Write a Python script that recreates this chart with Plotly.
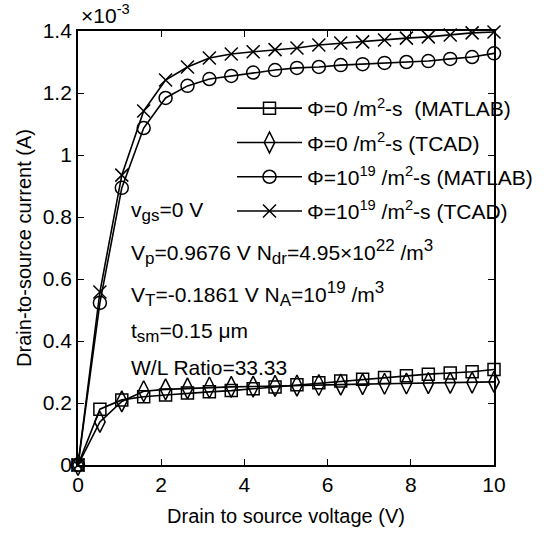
import plotly.graph_objects as go

# Drain-to-source voltage (V): 20 sample points from 0 to 10 V
vds = [0, 0.5263, 1.0526, 1.5789, 2.1053, 2.6316, 3.1579, 3.6842, 4.2105, 4.7368,
       5.2632, 5.7895, 6.3158, 6.8421, 7.3684, 7.8947, 8.4211, 8.9474, 9.4737, 10]

# Drain current in units of 1e-3 A
ids_phi0_matlab = [0, 0.180, 0.210, 0.220, 0.226, 0.232, 0.236, 0.240, 0.246, 0.252,
                   0.259, 0.265, 0.271, 0.277, 0.282, 0.288, 0.293, 0.297, 0.301, 0.308]
ids_phi0_tcad = [0, 0.139, 0.205, 0.238, 0.244, 0.247, 0.250, 0.252, 0.253, 0.255,
                 0.256, 0.258, 0.259, 0.261, 0.262, 0.263, 0.264, 0.265, 0.266, 0.268]
ids_phi19_matlab = [0, 0.523, 0.894, 1.087, 1.184, 1.223, 1.245, 1.255, 1.266, 1.274,
                    1.281, 1.284, 1.290, 1.293, 1.297, 1.300, 1.303, 1.310, 1.316, 1.328]
ids_phi19_tcad = [0, 0.558, 0.935, 1.142, 1.242, 1.284, 1.313, 1.326, 1.333, 1.340,
                  1.345, 1.355, 1.361, 1.365, 1.371, 1.377, 1.381, 1.387, 1.394, 1.397]

names = ["Φ=0 /m<sup>2</sup>-s  (MATLAB)", "Φ=0 /m<sup>2</sup>-s (TCAD)",
         "Φ=10<sup>19</sup> /m<sup>2</sup>-s (MATLAB)", "Φ=10<sup>19</sup> /m<sup>2</sup>-s (TCAD)"]
series = [ids_phi0_matlab, ids_phi0_tcad, ids_phi19_matlab, ids_phi19_tcad]
symbols = ["square-open", "diamond-tall-open", "circle-open", "x-thin-open"]
sizes = [12, 15, 13, 13]

xticks = [0, 2, 4, 6, 8, 10]
yticks = [0, 0.2, 0.4, 0.6, 0.8, 1.0, 1.2, 1.4]
ytick_text = ["0", "0.2", "0.4", "0.6", "0.8", "1", "1.2", "1.4"]

S = "<span style='font-size:17px'>"
E = "</span>"
annot_lines = [f"v<sub>{S}gs{E}</sub>=0 V",
               f"V<sub>{S}p{E}</sub>=0.9676 V N<sub>{S}dr{E}</sub>=4.95×10<sup>{S}22{E}</sup> /m<sup>{S}3{E}</sup>",
               f"V<sub>{S}T{E}</sub>=-0.1861 V N<sub>{S}A{E}</sub>=10<sup>{S}19{E}</sup> /m<sup>{S}3{E}</sup>",
               f"t<sub>{S}sm{E}</sub>=0.15 μm",
               "W/L Ratio=33.33"]

FONT = "Liberation Sans, Arial, sans-serif"
FS = 21

fig = go.Figure()
for i, (name, ys, sym, sz) in enumerate(zip(names, series, symbols, sizes)):
    fig.add_trace(go.Scatter(
        x=vds, y=ys, mode="lines+markers", name=name, legendgroup=f"g{i}",
        cliponaxis=False,
        line=dict(color="black", width=1.6),
        marker=dict(symbol=sym, size=sz, color="black",
                    line=dict(color="black", width=1.5)),
    ))

L, R, T, B = 78, 52, 31, 73
H = 538
plot_h = H - T - B

def py(ypx):
    return (H - B - ypx) / plot_h

ann_y = [211, 252, 294, 332, 367]
annotations = []
for txt, yp in zip(annot_lines, ann_y):
    annotations.append(dict(text=txt, xref="paper", yref="paper", x=(129 - L) / 416,
                            y=py(yp), xanchor="left", yanchor="middle", showarrow=False,
                            font=dict(family=FONT, size=FS, color="black")))
annotations.append(dict(text="×10<sup>-3</sup>", xref="paper", yref="paper",
                        x=(79 - L) / 416, y=py(29), xanchor="left", yanchor="bottom",
                        showarrow=False,
                        font=dict(family=FONT, size=FS, color="black")))

axis_common = dict(showline=True, linecolor="black", linewidth=1.8, mirror="allticks",
                   ticks="inside", ticklen=6, tickwidth=1.3, tickcolor="black",
                   showgrid=False, zeroline=False,
                   tickfont=dict(family=FONT, size=FS, color="black"))

fig.update_layout(
    width=546, height=538,
    margin=dict(l=L, r=R, t=T, b=B, autoexpand=False),
    paper_bgcolor="white", plot_bgcolor="white",
    font=dict(family=FONT, size=FS, color="black"),
    showlegend=True,
    legend=dict(x=(232 - L) / 416, y=py(88), xanchor="left", yanchor="top",
                bgcolor="rgba(0,0,0,0)", borderwidth=0, itemwidth=65,
                tracegroupgap=4, font=dict(family=FONT, size=FS, color="black")),
    xaxis=dict(range=[0, 10], tickvals=xticks,
               title=dict(text="Drain to source voltage (V)", standoff=14,
                          font=dict(family=FONT, size=20, color="black")),
               **axis_common),
    yaxis=dict(range=[0, 1.4], tickvals=yticks, ticktext=ytick_text,
               title=dict(text="Drain-to-source current (A)", standoff=6,
                          font=dict(family=FONT, size=20, color="black")),
               **axis_common),
    annotations=annotations,
)

fig.write_html("out.html")
